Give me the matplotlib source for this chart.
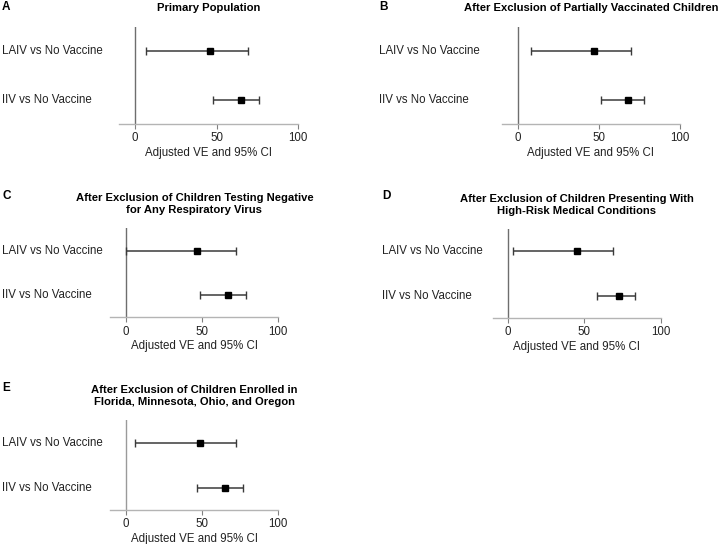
import numpy as np
import matplotlib
matplotlib.use('Agg')
from matplotlib import pyplot as plt

plt.rcParams['font.family'] = ['Liberation Sans', 'DejaVu Sans']

# rows, top to bottom
comparisons = ['LAIV vs No Vaccine', 'IIV vs No Vaccine']

panel_letters = ['A', 'B', 'C', 'D', 'E']
panel_titles = [
    'Primary Population',
    'After Exclusion of Partially Vaccinated Children',
    'After Exclusion of Children Testing Negative\nfor Any Respiratory Virus',
    'After Exclusion of Children Presenting With\nHigh-Risk Medical Conditions',
    'After Exclusion of Children Enrolled in\nFlorida, Minnesota, Ohio, and Oregon',
]

# adjusted VE, lower and upper 95% CI  [LAIV, IIV]
ve = [[46, 65], [47, 68], [47, 67], [45, 73], [49, 65]]
ci_low = [[7, 48], [8, 51], [0, 49], [3, 58], [6, 47]]
ci_high = [[69, 76], [70, 78], [72, 79], [69, 83], [72, 77]]

x_ticks = [0, 50, 100]

# axes boxes in figure fractions
boxes = [
    [0.1644, 0.772, 0.2488, 0.179],
    [0.6949, 0.772, 0.2470, 0.179],
    [0.1528, 0.4167, 0.2327, 0.1636],
    [0.6824, 0.4160, 0.2327, 0.1625],
    [0.1528, 0.0625, 0.2327, 0.1654],
]
label_x = [0.003, 0.525, 0.003, 0.529, 0.003]
letter_y = [0.988, 0.988, 0.640, 0.640, 0.287]

fig = plt.figure(figsize=(7.22, 5.44), dpi=100)

for i in range(5):
    ax = fig.add_axes(boxes[i])
    ypos = np.array([1.5, 0.5])
    est = np.array(ve[i])
    lo = est - np.array(ci_low[i])
    hi = np.array(ci_high[i]) - est
    ax.errorbar(est, ypos, xerr=[lo, hi], fmt='s', color='black', ms=3.8,
                ecolor='#3a3a3a', elinewidth=1.1, capsize=2.6, capthick=1.0)
    vcol = '#9a9a9a' if i == 4 else '#6e6e6e'
    ax.axvline(0, color=vcol, lw=1.0, zorder=0)
    ax.set_xlim(-10, 100)
    ax.set_ylim(0, 2)
    ax.set_xticks(x_ticks)
    ax.set_yticks([])
    for s in ['top', 'right', 'left']:
        ax.spines[s].set_visible(False)
    ax.spines['bottom'].set_color('#b4b4b4')
    ax.spines['bottom'].set_linewidth(1.0)
    ax.tick_params(axis='x', colors='#808080', length=3.5, labelsize=8.3,
                   labelcolor='#222222', pad=2.5)
    ax.set_xlabel('Adjusted VE and 95% CI', fontsize=8.3, color='#222222', labelpad=2)
    ax.set_title(panel_titles[i], fontsize=8.1, fontweight='bold', pad=11,
                 linespacing=1.25)
    # row labels
    for name, y in zip(comparisons, ypos):
        fig.text(label_x[i], ax.transData.transform((0, y))[1] / fig.dpi / 5.44,
                 name, ha='left', va='center', fontsize=8.3, color='#222222')
    fig.text(label_x[i], letter_y[i], panel_letters[i],
             ha='left', va='center', fontsize=8.5, fontweight='bold')

fig.savefig('out.png', dpi=100, facecolor='white')
